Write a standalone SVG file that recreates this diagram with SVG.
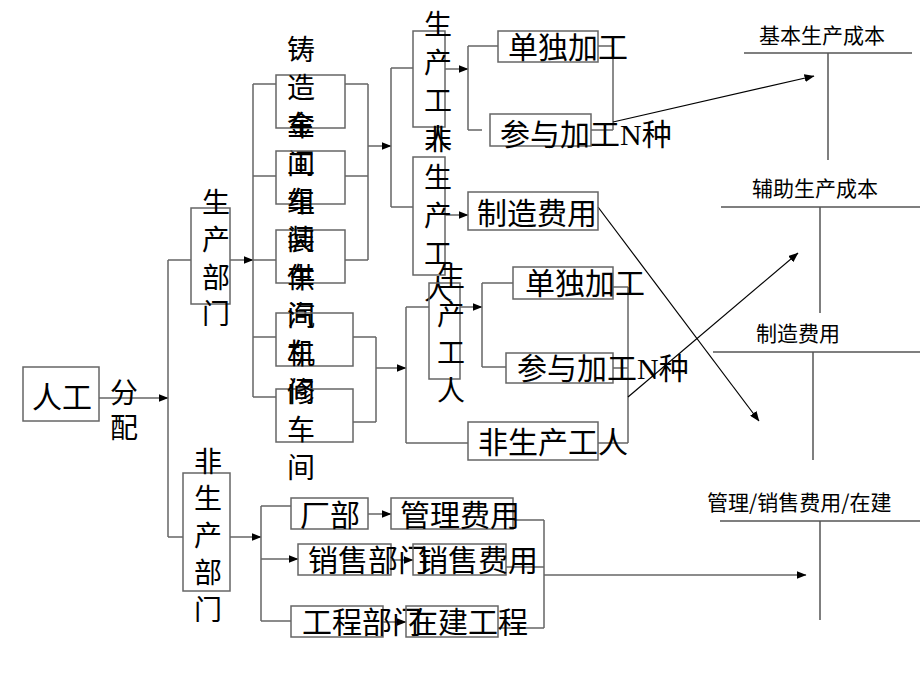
<svg xmlns="http://www.w3.org/2000/svg" width="920" height="690" viewBox="0 0 920 690">
<defs>
<marker id="ah" markerUnits="userSpaceOnUse" markerWidth="10" markerHeight="8" refX="9.5" refY="4" orient="auto">
<path d="M0,0 L10,4 L0,8 Z" fill="#000"/>
</marker>
<style>
.box{fill:none;stroke:#666;stroke-width:1.5}
.ln{fill:none;stroke:#666;stroke-width:1.5}
.ar{fill:none;stroke:#666;stroke-width:1.5;marker-end:url(#ah)}
.bk{fill:none;stroke:#000;stroke-width:1.2;marker-end:url(#ah)}
.led{fill:none;stroke:#555;stroke-width:1.5}
.t{font-family:"Liberation Serif","Noto Sans CJK SC",serif;font-size:30px;fill:#000}
.v{font-family:"Noto Sans CJK SC",sans-serif;font-size:28px;fill:#000;text-anchor:middle}
.s{font-family:"Noto Sans CJK SC","Liberation Serif",sans-serif;font-size:21px;fill:#000}
</style>
</defs>
<rect width="920" height="690" fill="#fff"/>

<g id="connectors">
<path class="ar" d="M99,398 H168"/>
<path class="ln" d="M168,260 V537 M168,260 H191 M168,537 H183"/>
<path class="ar" d="M230,260 H253"/>
<path class="ln" d="M253,84 V397 M253,84 H276 M253,176 H276 M253,260 H276 M253,337 H276 M253,397 H276"/>
<path class="ln" d="M345,84 H368 M345,176 H368 M345,260 H368 M368,84 V260"/>
<path class="ar" d="M368,146 H391"/>
<path class="ln" d="M391,68 V207 M391,68 H413 M391,207 H413"/>
<path class="ar" d="M445,69 H468"/>
<path class="ln" d="M468,46 V130 M468,46 H498 M468,130 H482"/>
<path class="ar" d="M445,215 H468"/>
<path class="ln" d="M598,46 H613 M591,130 H613 M613,46 V130"/>
<path class="bk" d="M613,122 L814,76"/>
<path class="bk" d="M598,207 L759,421"/>
<path class="ln" d="M353,337 H376 M353,422 H376 M376,337 V422"/>
<path class="ar" d="M376,368 H406"/>
<path class="ln" d="M406,307 V443 M406,307 H429 M406,443 H468"/>
<path class="ar" d="M460,307 H482"/>
<path class="ln" d="M482,283 V367 M482,283 H513 M482,367 H506"/>
<path class="ln" d="M613,287 H628 M613,368 H628 M598,443 H628 M628,287 V443"/>
<path class="bk" d="M628,397 L798,253"/>
<path class="ar" d="M230,537 H261"/>
<path class="ln" d="M261,506 V621 M261,506 H291 M261,621 H291"/>
<path class="ar" d="M261,559 H298"/>
<path class="ar" d="M368,514 H391"/>
<path class="ar" d="M391,560 H413"/>
<path class="ar" d="M383,622 H406"/>
<path class="ln" d="M513,520 H544 M506,567 H544 M498,628 H544 M544,520 V628"/>
<path class="ar" d="M544,575 H806"/>
</g>

<g id="n-rengong"><rect class="box" x="23" y="367" width="76" height="54"/><text class="t" x="62" y="408" text-anchor="middle">人工</text></g>
<g id="n-fenpei"><text class="v"><tspan x="124" y="403">分</tspan><tspan x="124" y="438">配</tspan></text></g>
<g id="n-scbm"><rect class="box" x="191" y="208" width="39" height="96"/><text class="v"><tspan x="216" y="213">生</tspan><tspan x="216" y="250">产</tspan><tspan x="216" y="288">部</tspan><tspan x="216" y="324">门</tspan></text></g>

<g id="n-zhuzao"><rect class="box" x="276" y="75" width="69" height="53"/><text class="v"><tspan x="301" y="60">铸</tspan><tspan x="301" y="98">造</tspan><tspan x="301" y="136">车</tspan><tspan x="301" y="174">间</tspan></text></g>
<g id="n-jingong"><rect class="box" x="276" y="151" width="69" height="53"/><text class="v"><tspan x="301" y="136">金</tspan><tspan x="301" y="174">工</tspan><tspan x="301" y="212">车</tspan><tspan x="301" y="250">间</tspan></text></g>
<g id="n-zuzhuang"><rect class="box" x="276" y="230" width="69" height="53"/><text class="v"><tspan x="301" y="212">组</tspan><tspan x="301" y="250">装</tspan><tspan x="301" y="288">车</tspan><tspan x="301" y="326">间</tspan></text></g>
<g id="n-gongqi"><rect class="box" x="276" y="313" width="77" height="53"/><text class="v"><tspan x="301" y="288">供</tspan><tspan x="301" y="326">汽</tspan><tspan x="301" y="364">车</tspan><tspan x="301" y="402">间</tspan></text></g>
<g id="n-jixiu"><rect class="box" x="276" y="389" width="77" height="53"/><text class="v"><tspan x="301" y="364">机</tspan><tspan x="301" y="402">修</tspan><tspan x="301" y="440">车</tspan><tspan x="301" y="478">间</tspan></text></g>

<g id="n-scgr1"><rect class="box" x="413" y="31" width="32" height="96"/><text class="v"><tspan x="438" y="35">生</tspan><tspan x="438" y="73">产</tspan><tspan x="438" y="111">工</tspan><tspan x="438" y="149">人</tspan></text></g>
<g id="n-fscgr1"><rect class="box" x="413" y="157" width="32" height="118"/><text class="v"><tspan x="438" y="150">非</tspan><tspan x="438" y="188">生</tspan><tspan x="438" y="226">产</tspan><tspan x="438" y="264">工</tspan><tspan x="438" y="300">人</tspan></text></g>
<g id="n-dandu1"><rect class="box" x="498" y="31" width="100" height="31"/><text class="t" x="508" y="58">单独加工</text></g>
<g id="n-canyu1"><rect class="box" x="490" y="114" width="101" height="32"/><text class="t" x="500" y="145">参与加工N种</text></g>
<g id="n-zhizao1"><rect class="box" x="468" y="192" width="130" height="38"/><text class="t" x="477" y="224">制造费用</text></g>

<g id="n-scgr2"><rect class="box" x="429" y="283" width="31" height="96"/><text class="v"><tspan x="451" y="287">生</tspan><tspan x="451" y="325">产</tspan><tspan x="451" y="363">工</tspan><tspan x="451" y="401">人</tspan></text></g>
<g id="n-dandu2"><rect class="box" x="513" y="267" width="100" height="32"/><text class="t" x="525" y="294">单独加工</text></g>
<g id="n-canyu2"><rect class="box" x="506" y="353" width="107" height="30"/><text class="t" x="517" y="379">参与加工N种</text></g>
<g id="n-fscgr2"><rect class="box" x="468" y="422" width="130" height="38"/><text class="t" x="478" y="453">非生产工人</text></g>

<g id="n-fscbm"><rect class="box" x="183" y="473" width="47" height="118"/><text class="v"><tspan x="208" y="472">非</tspan><tspan x="208" y="509">生</tspan><tspan x="208" y="546">产</tspan><tspan x="208" y="583">部</tspan><tspan x="208" y="620">门</tspan></text></g>
<g id="n-changbu"><rect class="box" x="291" y="498" width="77" height="31"/><text class="t" x="300" y="526">厂部</text></g>
<g id="n-guanli"><rect class="box" x="391" y="498" width="122" height="31"/><text class="t" x="400" y="526">管理费用</text></g>
<g id="n-xiaoshoubm"><rect class="box" x="298" y="544" width="93" height="31"/><text class="t" x="308" y="571">销售部门</text></g>
<g id="n-xiaoshoufy"><rect class="box" x="413" y="544" width="93" height="31"/><text class="t" x="418" y="571">销售费用</text></g>
<g id="n-gongcheng"><rect class="box" x="291" y="606" width="92" height="31"/><text class="t" x="302" y="633">工程部门</text></g>
<g id="n-zaijian"><rect class="box" x="406" y="606" width="92" height="31"/><text class="t" x="408" y="633">在建工程</text></g>

<g id="n-jiben"><path class="led" d="M744,53 H912 M828,53 V160"/><text class="s" x="822" y="43" text-anchor="middle">基本生产成本</text></g>
<g id="n-fuzhu"><path class="led" d="M721,207 H920 M820,207 V313"/><text class="s" x="815" y="196" text-anchor="middle">辅助生产成本</text></g>
<g id="n-zhizao2"><path class="led" d="M713,352 H920 M813,352 V460"/><text class="s" x="798" y="341" text-anchor="middle">制造费用</text></g>
<g id="n-guanli2"><path class="led" d="M720,521 H920 M820,521 V620"/><text class="s" x="707" y="510">管理/销售费用/在建</text></g>
</svg>
